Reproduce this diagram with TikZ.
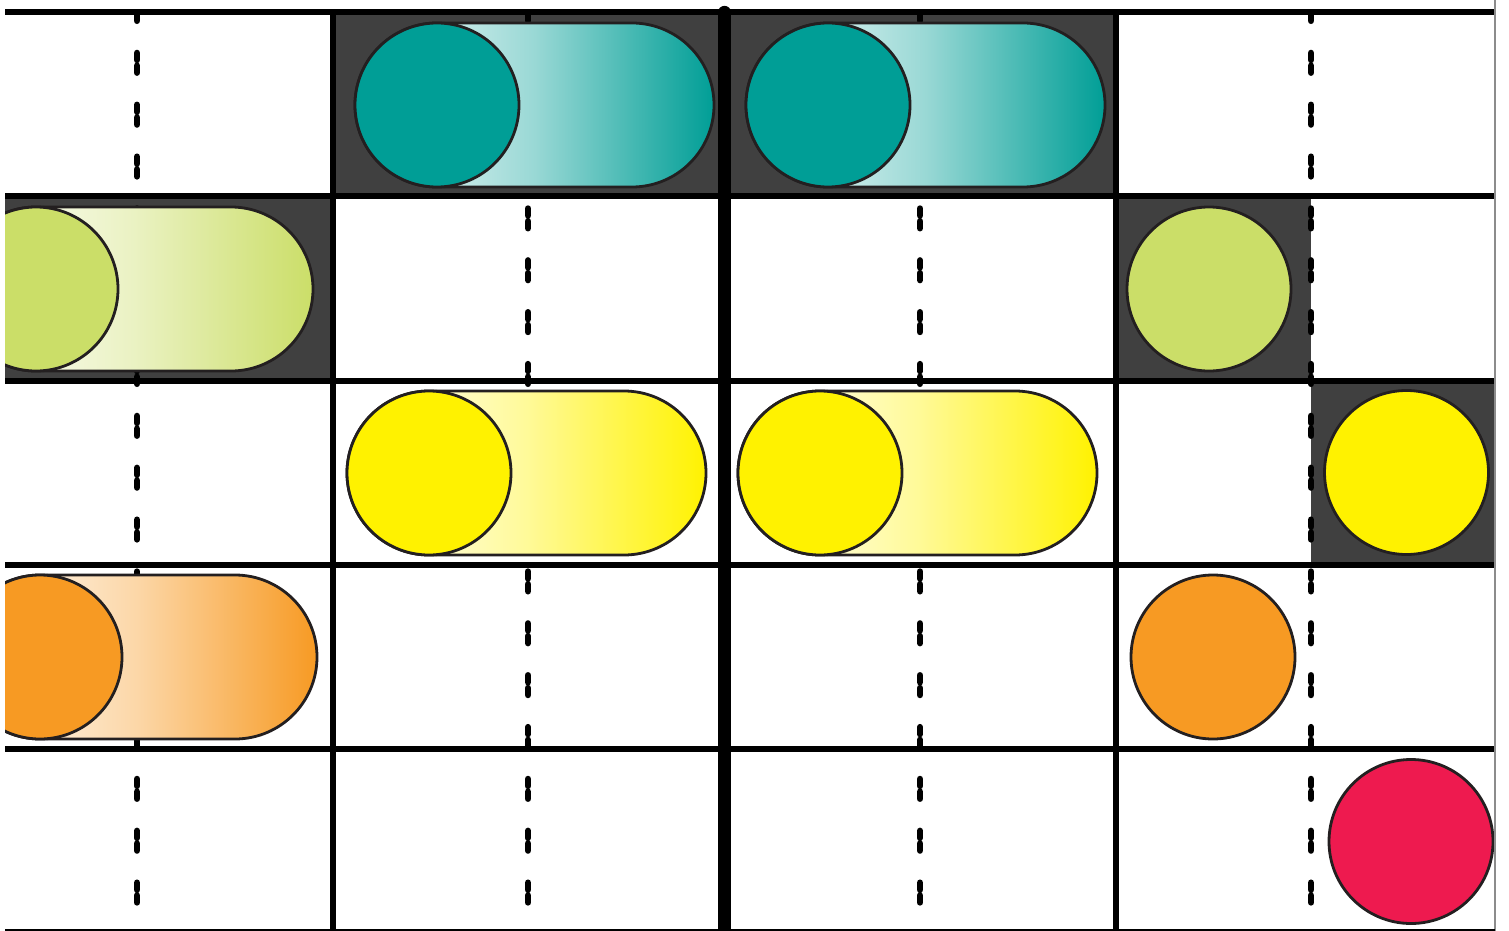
\documentclass[tikz,border=0pt]{standalone}
\definecolor{cellgrey}{HTML}{404040}
\definecolor{cteal}{HTML}{009E96}
\definecolor{clime}{HTML}{CBDE68}
\definecolor{cyellow}{HTML}{FFF200}
\definecolor{corange}{HTML}{F79A23}
\definecolor{cred}{HTML}{EE1A4F}
\definecolor{outl}{HTML}{231F20}
\tikzset{
  gridline/.style={line width=6pt, black},
  ball/.style={circle, draw=outl, line width=2.8pt, minimum size=164pt, inner sep=0pt, fill=#1},
  pilloutline/.style={draw=outl, line width=2.8pt},
  dashline/.style={line width=6.5pt, line cap=round, dash pattern=on 7pt off 5.7pt on 7pt off 32.16pt, dash phase=10.9pt},
}
\newcommand\pillshape[5]{% name, cx, cy, L, color
  \draw[pilloutline, left color=white, right color=#5, middle color=#5!40]
    (#2,#3-82) -- ++(#4,0) arc[start angle=-90,end angle=90,radius=82]
    -- (#2,#3+82) arc[start angle=90,end angle=270,radius=82] -- cycle;
  \node[ball=#5] (#1) at (#2,#3) {};
}
\begin{document}
\begin{tikzpicture}[x=1pt,y=-1pt]
\useasboundingbox (0,0) rectangle (1509,931);
\begin{scope}
  \clip (5,0) rectangle (1495,931);
  % shaded cells
  \fill[cellgrey] (333,12) rectangle (1115.5,196.25);
  \fill[cellgrey] (5,196.25) rectangle (333,380.5);
  \fill[cellgrey] (1115.5,196.25) rectangle (1311,380.5);
  \fill[cellgrey] (1311,380.5) rectangle (1495,564.75);
  % dashed centre lines
  \foreach \x in {137,528,920,1311}
    \draw[dashline] (\x,12) -- (\x,929);
  % grid
  \foreach \y in {12,196.25,380.5,564.75,749}
    \draw[gridline] (5,\y) -- (1495,\y);
  \draw[gridline] (333,12) -- (333,931);
  \draw[gridline] (1115.5,12) -- (1115.5,931);
  \draw[line width=12.3pt, line cap=round] (724.5,12) -- (724.5,945);
  % pills
  \pillshape{t1}{437}{105}{195}{cteal}
  \pillshape{t2}{828}{105}{195}{cteal}
  \pillshape{l1}{36}{289}{195}{clime}
  \pillshape{y1}{429}{473}{195}{cyellow}
  \pillshape{y2}{820}{473}{195}{cyellow}
  \pillshape{o1}{40}{657}{195}{corange}
  % single balls
  \node[ball=clime] (l2) at (1209,289) {};
  \node[ball=cyellow] (y3) at (1406.5,472.5) {};
  \node[ball=corange] (o2) at (1213,657) {};
  \node[ball=cred] (r1) at (1411,841.5) {};
\end{scope}
% outer thin border
\draw[line width=1.2pt, black!45] (1495,0) -- (1495,931);
\draw[line width=1.6pt, black] (5,930) -- (1495,930);
\end{tikzpicture}
\end{document}
